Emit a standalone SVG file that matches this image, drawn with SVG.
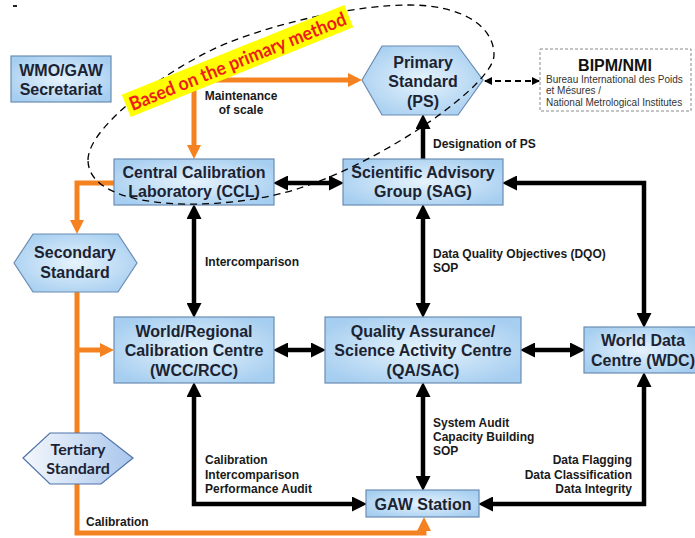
<svg xmlns="http://www.w3.org/2000/svg" width="695" height="538" viewBox="0 0 695 538">
<defs>
  <radialGradient id="boxg" cx="50%" cy="50%" r="60%">
    <stop offset="0" stop-color="#e6f3fc"/>
    <stop offset="1" stop-color="#a6cef0"/>
  </radialGradient>
  <linearGradient id="terg" x1="0" y1="0" x2="1" y2="0">
    <stop offset="0" stop-color="#f4f7fc"/>
    <stop offset="1" stop-color="#a9c6ec"/>
  </linearGradient>
  <marker id="ah" viewBox="0 0 15 15" refX="8" refY="7.5" markerWidth="15" markerHeight="15" markerUnits="userSpaceOnUse" orient="auto-start-reverse">
    <path d="M0,0 L15,7.5 L0,15 z" fill="#000"/>
  </marker>
  <marker id="oh" viewBox="0 0 14 14" refX="8" refY="7" markerWidth="14" markerHeight="14" markerUnits="userSpaceOnUse" orient="auto-start-reverse">
    <path d="M0,0 L14,7 L0,14 z" fill="#f58220"/>
  </marker>
  <marker id="sh" viewBox="0 0 8 8" refX="7" refY="4" markerWidth="8" markerHeight="8" markerUnits="userSpaceOnUse" orient="auto-start-reverse">
    <path d="M0,0 L8,4 L0,8 z" fill="#000"/>
  </marker>
</defs>
<style>
  .box { fill: url(#boxg); stroke: #6a8cb3; stroke-width: 1.2; }
  .hex { fill: url(#boxg); stroke: #6a8cb3; stroke-width: 1.2; }
  .nt { font-family: "Liberation Sans", Arial, sans-serif; font-weight: bold; font-size: 16px; fill: #1b2333; text-anchor: middle; }
  .lb { font-family: "Liberation Sans", Arial, sans-serif; font-weight: bold; font-size: 12px; fill: #1a1a1a; }
  .blk { fill: none; stroke: #000; stroke-width: 4.5; }
  .org { fill: none; stroke: #f58220; stroke-width: 5; }
</style>
<rect width="695" height="538" fill="#fff"/>
<rect x="13" y="5" width="4" height="2" fill="#222"/>

<g id="connectors">
  <path class="org" d="M194,153 L194,80 L356,80" marker-start="url(#oh)" marker-end="url(#oh)"/>
  <path class="org" d="M114,183 L77,183 L77,228" marker-end="url(#oh)"/>
  <path class="org" d="M77,292 L77,533 L424,533 L424,523" marker-end="url(#oh)"/>
  <path class="org" d="M77,350 L108,350" marker-end="url(#oh)"/>
  <path class="blk" d="M280,183 L337,183" marker-start="url(#ah)" marker-end="url(#ah)"/>
  <path class="blk" d="M423,159 L423,121" marker-end="url(#ah)"/>
  <path class="blk" d="M423,211 L423,311" marker-start="url(#ah)" marker-end="url(#ah)"/>
  <path class="blk" d="M194,211 L194,311" marker-start="url(#ah)" marker-end="url(#ah)"/>
  <path class="blk" d="M280,350 L319,350" marker-start="url(#ah)" marker-end="url(#ah)"/>
  <path class="blk" d="M527,350 L578,350" marker-start="url(#ah)" marker-end="url(#ah)"/>
  <path class="blk" d="M644,321 L644,183 L509,183" marker-start="url(#ah)" marker-end="url(#ah)"/>
  <path class="blk" d="M423,389 L423,484" marker-start="url(#ah)" marker-end="url(#ah)"/>
  <path class="blk" d="M194,389 L194,504 L360,504" marker-start="url(#ah)" marker-end="url(#ah)"/>
  <path class="blk" d="M644,379 L644,504 L485,504" marker-start="url(#ah)" marker-end="url(#ah)"/>
  <path d="M485,81 L539,81" fill="none" stroke="#000" stroke-width="2" stroke-dasharray="6,4" marker-start="url(#sh)" marker-end="url(#sh)"/>
</g>

<g id="labels">
  <text class="lb" x="241" y="100" text-anchor="middle">Maintenance</text>
  <text class="lb" x="241" y="114" text-anchor="middle">of scale</text>
  <text class="lb" x="433" y="148">Designation of PS</text>
  <text class="lb" x="205" y="266">Intercomparison</text>
  <text class="lb" x="433" y="258">Data Quality Objectives (DQO)</text>
  <text class="lb" x="433" y="272">SOP</text>
  <text class="lb" x="433" y="427">System Audit</text>
  <text class="lb" x="433" y="441">Capacity Building</text>
  <text class="lb" x="433" y="455">SOP</text>
  <text class="lb" x="632" y="464" text-anchor="end">Data Flagging</text>
  <text class="lb" x="632" y="479" text-anchor="end">Data Classification</text>
  <text class="lb" x="632" y="493" text-anchor="end">Data Integrity</text>
  <text class="lb" x="205" y="464">Calibration</text>
  <text class="lb" x="205" y="479">Intercomparison</text>
  <text class="lb" x="205" y="493">Performance Audit</text>
  <text class="lb" x="86" y="526">Calibration</text>
</g>

<g id="wmo">
  <rect class="box" x="11" y="56" width="100" height="46"/>
  <text class="nt" x="61" y="76">WMO/GAW</text>
  <text class="nt" x="61" y="95">Secretariat</text>
</g>
<g id="ps">
  <polygon class="hex" points="362,80 382,46 458,46 483,80 458,115 382,115"/>
  <text class="nt" x="423" y="68">Primary</text>
  <text class="nt" x="423" y="87">Standard</text>
  <text class="nt" x="423" y="107">(PS)</text>
</g>
<g id="bipm">
  <rect x="540" y="49" width="151" height="62" fill="#fff" stroke="#8a8a8a" stroke-width="1" stroke-dasharray="3,2"/>
  <text x="615" y="71" font-family="Liberation Sans, Arial, sans-serif" font-weight="bold" font-size="16" fill="#111" text-anchor="middle">BIPM/NMI</text>
  <text x="546" y="83" font-family="Liberation Sans, Arial, sans-serif" font-size="10" fill="#333">Bureau International des Poids</text>
  <text x="546" y="94" font-family="Liberation Sans, Arial, sans-serif" font-size="10" fill="#333">et Mésures /</text>
  <text x="546" y="106" font-family="Liberation Sans, Arial, sans-serif" font-size="10" fill="#333">National Metrological Institutes</text>
</g>
<g id="ccl">
  <rect class="box" x="114" y="159" width="160" height="46"/>
  <text class="nt" x="194" y="178">Central Calibration</text>
  <text class="nt" x="194" y="197">Laboratory (CCL)</text>
</g>
<g id="sag">
  <rect class="box" x="343" y="159" width="160" height="46"/>
  <text class="nt" x="423" y="178">Scientific Advisory</text>
  <text class="nt" x="423" y="197">Group (SAG)</text>
</g>
<g id="secondary">
  <polygon class="hex" points="14,263 33,234 118,234 137,263 118,292 33,292"/>
  <text class="nt" x="75" y="258">Secondary</text>
  <text class="nt" x="75" y="278">Standard</text>
</g>
<g id="wcc">
  <rect class="box" x="114" y="317" width="160" height="66"/>
  <text class="nt" x="194" y="337">World/Regional</text>
  <text class="nt" x="194" y="356">Calibration Centre</text>
  <text class="nt" x="194" y="376">(WCC/RCC)</text>
</g>
<g id="qasac">
  <rect class="box" x="325" y="317" width="196" height="66"/>
  <text class="nt" x="423" y="337">Quality Assurance/</text>
  <text class="nt" x="423" y="356">Science Activity Centre</text>
  <text class="nt" x="423" y="376">(QA/SAC)</text>
</g>
<g id="wdc">
  <rect class="box" x="584" y="327" width="112" height="46"/>
  <text class="nt" x="643" y="346">World Data</text>
  <text class="nt" x="643" y="366">Centre (WDC)</text>
</g>
<g id="tertiary">
  <polygon points="23,458 50,433 101,433 133,458 101,484 50,484" fill="url(#terg)" stroke="#4f72a8" stroke-width="1.2"/>
  <text x="78" y="455" font-family="Lato, 'Open Sans', sans-serif" font-weight="bold" font-size="16" fill="#1b2333" text-anchor="middle">Tertiary</text>
  <text x="78" y="474" font-family="Lato, 'Open Sans', sans-serif" font-weight="bold" font-size="16" fill="#1b2333" text-anchor="middle">Standard</text>
</g>
<g id="gaw">
  <rect class="box" x="366" y="490" width="113" height="27"/>
  <text class="nt" x="423" y="510">GAW Station</text>
</g>

<g id="highlight">
  <path d="M88,160 C88,125 174,64 230,42 C286,20 360,5 410,5 C460,5 494,25 494,55 C494,85 382,162 300,188 C230,212 88,214 88,160 Z" fill="none" stroke="#000" stroke-width="1.3" stroke-dasharray="7,5"/>
  <g transform="translate(237.5,61) rotate(-22)">
    <rect x="-120" y="-12" width="240" height="24" fill="#ffff00"/>
    <text x="0" y="7" font-family="Lato, 'Open Sans', sans-serif" font-weight="bold" font-size="19" fill="#ee1c1c" text-anchor="middle" textLength="232" lengthAdjust="spacingAndGlyphs">Based on the primary method</text>
  </g>
</g>
</svg>
